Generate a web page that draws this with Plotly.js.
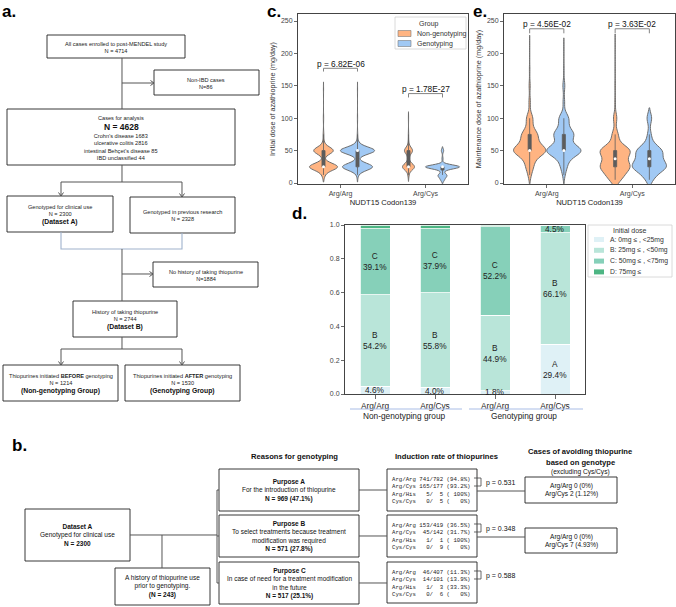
<!DOCTYPE html>
<html>
<head>
<meta charset="utf-8">
<script src="https://cdn.plot.ly/plotly-3.0.1.min.js"></script>
<style>
html,body{margin:0;padding:0;background:#ffffff;}
#chart{width:676px;height:607px;}
</style>
</head>
<body>
<div id="chart"></div>
<script>
// ======================= DATA =======================
// Panels c / e : NUDT15 codon 139 genotype and treatment group
const genotypeLabels = ['Arg/Arg', 'Arg/Cys'];
const groupNames = ['Non-genotyping', 'Genotyping'];
const groupLegendTitle = 'Group';

// Panel c - initial azathioprine dose (mg/day): dose levels and number of cases
const initNonGenoArgArgDose  = [12.5, 25, 37.5, 50, 62.5, 75, 100, 145];
const initNonGenoArgArgCount = [46, 530, 12, 370, 21, 12, 6, 3];
const initGenoArgArgDose     = [12.5, 25, 37.5, 50, 62.5, 75, 100, 145];
const initGenoArgArgCount    = [18, 440, 9, 500, 22, 6, 3, 2];
const initNonGenoArgCysDose  = [12.5, 25, 37.5, 50, 62.5, 75, 100];
const initNonGenoArgCysCount = [40, 520, 38, 350, 29, 15, 8];
const initGenoArgCysDose     = [5, 10, 12.5, 20, 25, 37.5, 50];
const initGenoArgCysCount    = [60, 70, 110, 54, 640, 21, 45];
const initialPValues = ['p = 6.82E-06', 'p = 1.78E-27'];

// Panel e - maintenance azathioprine dose (mg/day)
const maintNonGenoArgArgDose  = [12.5, 25, 37.5, 50, 62.5, 75, 87.5, 100, 125, 150, 175, 212];
const maintNonGenoArgArgCount = [30, 80, 100, 400, 140, 180, 40, 80, 20, 15, 7, 4];
const maintGenoArgArgDose     = [12.5, 25, 37.5, 50, 62.5, 75, 87.5, 100, 125, 150, 175, 208];
const maintGenoArgArgCount    = [20, 60, 90, 400, 80, 220, 60, 110, 20, 25, 6, 3];
const maintNonGenoArgCysDose  = [5, 12.5, 25, 37.5, 50, 62.5, 75, 100, 125, 150, 175, 214];
const maintNonGenoArgCysCount = [60, 120, 280, 150, 300, 50, 60, 40, 8, 6, 3, 2];
const maintGenoArgCysDose     = [5, 12.5, 25, 37.5, 50, 62.5, 75, 100];
const maintGenoArgCysCount    = [30, 80, 300, 160, 220, 40, 30, 50];
const maintenancePValues = ['p = 4.56E-02', 'p = 3.63E-02'];

// Panel d - initial dose category (%)
const barGenotypes = ['Arg/Arg', 'Arg/Cys', 'Arg/Arg', 'Arg/Cys'];
const barGroupLabels = ['Non-genotyping group', 'Genotyping group'];
const doseLegendTitle = 'Initial dose';
const doseBinNames = ['A: 0mg \u2264 , <25mg', 'B: 25mg \u2264 , <50mg', 'C: 50mg \u2264 , <75mg', 'D: 75mg \u2264'];
const doseBinLetters = ['A', 'B', 'C', 'D'];
const pctBinA = [4.6, 4.0, 1.8, 29.4];
const pctBinB = [54.2, 55.8, 44.9, 66.1];
const pctBinC = [39.1, 37.9, 52.2, 4.5];
const pctBinD = [2.1, 2.3, 1.1, 0.0];

// Panel a - flow chart texts (last entry of a box may be a bold caption)
const flowATexts = [
  ['All cases enrolled to post-MENDEL study', 'N = 4714'],
  ['Non-IBD cases', 'N=86'],
  null,
  ['Genotyped for clinical use', 'N = 2300'],
  ['Genotyped in previous research', 'N = 2328'],
  ['No history of taking thiopurine', 'N=1884'],
  ['History of taking thiopurine', 'N = 2744'],
  ['Thiopurines initiated <b>BEFORE</b> genotyping', 'N = 1214'],
  ['Thiopurines initiated <b>AFTER</b> genotyping', 'N = 1530']
];
const flowACaptions = [null, null, null, '(Dataset A)', null, null, '(Dataset B)', '(Non-genotyping Group)', '(Genotyping Group)'];
const analysisTitle = 'Cases for analysis';
const analysisN = 'N = 4628';
const analysisDetail = ['Crohn\u2019s disease 1683', 'ulcerative colitis 2816', 'intestinal Behçet\u2019s disease 85', 'IBD unclassified 44'];

// Panel b - flow chart texts
const flowBHeaders = ['Reasons for genotyping', 'Induction rate of thiopurines'];
const avoidHeader = ['Cases of avoiding thiopurine', 'based on genotype', '(excluding Cys/Cys)'];
const datasetABox = '<b>Dataset A</b><br>Genotyped for clinical use<br><b>N = 2300</b>';
const historyBox = 'A history of thiopurine use<br>prior to genotyping.<br><b>(N = 243)</b>';
const purposeTexts = [
  '<b>Purpose A</b><br>For the introduction of thiopurine<br><b>N = 969 (47.1%)</b>',
  '<b>Purpose B</b><br>To select treatments because treatment<br>modification was required<br><b>N = 571 (27.8%)</b>',
  '<b>Purpose C</b><br>In case of need for a treatment modification<br>in the future<br><b>N = 517 (25.1%)</b>'
];
const inductionGenotypes = ['Arg/Arg', 'Arg/Cys', 'Arg/His', 'Cys/Cys'];
const inductionNum = [[741, 165, 5, 0], [153, 45, 1, 0], [46, 14, 1, 0]];
const inductionDen = [[782, 177, 5, 5], [419, 142, 1, 9], [407, 101, 3, 6]];
const inductionPct = [['94.8%', '93.2%', '100%', '0%'], ['36.5%', '31.7%', '100%', '0%'], ['11.3%', '13.9%', '33.3%', '0%']];
const inductionPValues = ['p = 0.531', 'p = 0.348', 'p = 0.588'];
const avoidTexts = ['Arg/Arg 0 (0%)<br>Arg/Cys 2 (1.12%)', 'Arg/Arg 0 (0%)<br>Arg/Cys 7 (4.93%)'];

// ======================= HELPERS =======================
const W = 676, H = 607;
const PX = x => x / W;
const PY = y => 1 - y / H;
const FONT = 'Liberation Sans, Arial, sans-serif';
const orange = '#ffb482', blue = '#a1c9f4';
const groupColors = [orange, blue];
const binColors = ['#dff1f6', '#b9e5d9', '#86d0b9', '#4db583'];

function expand(levels, counts) {
  const out = [];
  levels.forEach((v, i) => { for (let k = 0; k < counts[i]; k++) out.push(v); });
  return out;
}
function median(arr) {
  const s = arr.slice().sort((a, b) => a - b);
  const m = Math.floor(s.length / 2);
  return s.length % 2 ? s[m] : (s[m - 1] + s[m]) / 2;
}

const traces = [];
function addViolin(levels, counts, pos, w, bw, color, name, xa, ya, med) {
  const ys = expand(levels, counts);
  traces.push({
    type: 'violin', x0: pos, y: ys, xaxis: xa, yaxis: ya, orientation: 'v',
    width: w, bandwidth: bw, points: false, spanmode: 'soft', scalemode: 'width',
    fillcolor: color, line: {color: '#6e6e6e', width: 1},
    box: {visible: true, width: 0.036 / w, fillcolor: '#5c5c5c', line: {color: '#5c5c5c', width: 0.8}},
    meanline: {visible: false}, name: name, showlegend: false, hoverinfo: 'skip'
  });
  med.x.push(pos); med.y.push(median(ys));
}

// ---- panel c ----
const medC = {x: [], y: []};
addViolin(initNonGenoArgArgDose, initNonGenoArgArgCount, -0.2, 0.33, 5.5, orange, groupNames[0], 'x', 'y', medC);
addViolin(initGenoArgArgDose, initGenoArgArgCount, 0.2, 0.40, 5.5, blue, groupNames[1], 'x', 'y', medC);
addViolin(initNonGenoArgCysDose, initNonGenoArgCysCount, 0.8, 0.14, 5.0, orange, groupNames[0], 'x', 'y', medC);
addViolin(initGenoArgCysDose, initGenoArgCysCount, 1.2, 0.40, 3.0, blue, groupNames[1], 'x', 'y', medC);
traces.push({type: 'scatter', mode: 'markers', x: medC.x, y: medC.y, xaxis: 'x', yaxis: 'y',
  marker: {color: '#ffffff', size: 3}, showlegend: false, hoverinfo: 'skip'});

// ---- panel e ----
const medE = {x: [], y: []};
addViolin(maintNonGenoArgArgDose, maintNonGenoArgArgCount, -0.2, 0.376, 8, orange, groupNames[0], 'x2', 'y2', medE);
addViolin(maintGenoArgArgDose, maintGenoArgArgCount, 0.2, 0.40, 8, blue, groupNames[1], 'x2', 'y2', medE);
addViolin(maintNonGenoArgCysDose, maintNonGenoArgCysCount, 0.8, 0.353, 8, orange, groupNames[0], 'x2', 'y2', medE);
addViolin(maintGenoArgCysDose, maintGenoArgCysCount, 1.2, 0.40, 8, blue, groupNames[1], 'x2', 'y2', medE);
traces.push({type: 'scatter', mode: 'markers', x: medE.x, y: medE.y, xaxis: 'x2', yaxis: 'y2',
  marker: {color: '#ffffff', size: 3}, showlegend: false, hoverinfo: 'skip'});

// ---- panel d ----
const binPcts = [pctBinA, pctBinB, pctBinC, pctBinD];
const barX = barGenotypes.map((g, i) => i);
binPcts.forEach((p, k) => {
  traces.push({
    type: 'bar', x: barX, y: p.map(v => v / 100), width: 0.5, xaxis: 'x3', yaxis: 'y3',
    name: doseBinNames[k], showlegend: false,
    marker: {color: binColors[k], line: {color: '#ffffff', width: 0.8}},
    textposition: 'none', hoverinfo: 'skip'
  });
});

// ======================= LAYOUT ITEMS =======================
const shapes = [];
const annotations = [];

function ann(text, x, y, o) {
  o = o || {};
  annotations.push(Object.assign({
    text: text, xref: 'paper', yref: 'paper', x: PX(x), y: PY(y), showarrow: false,
    xanchor: 'center', yanchor: 'middle', align: 'center',
    font: {family: FONT, size: 6, color: '#111'}
  }, o));
}
function rect(b, color, lw, fill) {
  shapes.push({type: 'rect', xref: 'paper', yref: 'paper', x0: PX(b[0]), x1: PX(b[2]), y0: PY(b[3]), y1: PY(b[1]),
    line: {color: color || '#222', width: lw === undefined ? 0.9 : lw}, fillcolor: fill || 'rgba(0,0,0,0)', layer: 'above'});
}
function poly(pts, color, lw) {
  const path = pts.map((p, i) => (i ? 'L' : 'M') + PX(p[0]).toFixed(5) + ',' + PY(p[1]).toFixed(5)).join(' ');
  shapes.push({type: 'path', xref: 'paper', yref: 'paper', path: path,
    line: {color: color || '#555', width: lw || 1}, layer: 'above'});
}
function arrowDown(x, y0, y1, c) { poly([[x, y0], [x, y1]], c); poly([[x - 2.5, y1 - 3.5], [x, y1], [x + 2.5, y1 - 3.5]], c); }
function arrowRight(x0, x1, y, c) { poly([[x0, y], [x1, y]], c); poly([[x1 - 3.5, y - 2.5], [x1, y], [x1 - 3.5, y + 2.5]], c); }

// panel labels
const labelFont = {family: FONT, size: 17, color: '#000'};
ann('<b>a.</b>', 0, 0, {xanchor: 'left', yanchor: 'top', font: labelFont});
ann('<b>b.</b>', 10, 445, {xanchor: 'left', font: labelFont});
ann('<b>c.</b>', 265, 0, {xanchor: 'left', yanchor: 'top', font: labelFont});
ann('<b>d.</b>', 290, 214, {xanchor: 'left', font: labelFont});
ann('<b>e.</b>', 471, 0, {xanchor: 'left', yanchor: 'top', font: labelFont});

// ---- panel a flow chart ----
const aFont = {family: FONT, size: 5.6, color: '#222'};
const aCapFont = {family: FONT, size: 6.8, color: '#111'};
const flowABoxes = [[47, 35, 185, 58], [154, 70, 259, 95], [7, 109, 235, 165], [7, 196, 113, 232],
  [130, 197, 235, 233], [153, 262, 258, 287], [73, 301, 177, 337], [3, 365, 118, 401], [125, 365, 240, 401]];
flowABoxes.forEach((b, i) => {
  rect(b, '#222', 0.9);
  const cx = (b[0] + b[2]) / 2, cy = (b[1] + b[3]) / 2;
  if (!flowATexts[i]) return;
  if (flowACaptions[i]) {
    ann(flowATexts[i].join('<br>'), cx, cy - 4, {font: aFont});
    ann('<b>' + flowACaptions[i] + '</b>', cx, cy + 8, {font: aCapFont});
  } else {
    ann(flowATexts[i].join('<br>'), cx, cy + 0.5, {font: aFont});
  }
});
ann(analysisTitle, 121, 117.5, {font: aFont});
ann('<b>' + analysisN + '</b>', 121, 127, {font: {family: FONT, size: 8.5, color: '#111'}});
ann(analysisDetail.join('<br>'), 121, 147.5, {font: aFont});
const lineA = '#555', lineBlue = '#9fb2cc';
poly([[122, 58], [122, 109]], lineA);
arrowRight(122, 154, 83, lineA);
poly([[122, 165], [122, 182]], lineA);
poly([[61, 182], [182, 182]], lineA);
arrowDown(61, 182, 196, lineA);
arrowDown(182, 182, 197, lineA);
poly([[61, 232], [61, 249], [182, 249], [182, 233]], lineBlue, 1.1);
poly([[122, 249], [122, 301]], lineA);
arrowRight(122, 153, 274, lineA);
poly([[122, 337], [122, 349]], lineA);
poly([[61, 349], [182, 349]], lineA);
arrowDown(61, 349, 365, lineA);
arrowDown(182, 349, 365, lineA);

// ---- panel b flow chart ----
const bFont = {family: FONT, size: 6.5, color: '#111'};
const hFont = {family: FONT, size: 7.6, color: '#111'};
ann('<b>' + flowBHeaders[0] + '</b>', 294, 456, {font: hFont});
ann('<b>' + flowBHeaders[1] + '</b>', 446, 456, {font: hFont});
ann('<b>' + avoidHeader[0] + '</b>', 580, 451, {font: hFont});
ann('<b>' + avoidHeader[1] + '</b>', 580, 462, {font: hFont});
ann(avoidHeader[2], 580, 472, {font: {family: FONT, size: 6.6, color: '#111'}});

rect([25, 509, 130, 561]);
ann(datasetABox, 77.5, 535, {font: bFont});
rect([115, 568, 210, 605]);
ann(historyBox, 162.5, 586.5, {font: bFont});
const purposeBoxes = [[219, 469, 359, 511], [219, 515, 359, 557], [219, 562, 359, 604]];
const inductionBoxes = [[387, 469, 477, 511], [387, 515, 477, 557], [387, 562, 477, 603]];
const avoidBoxes = [[525, 477, 617, 503], [525, 528, 617, 553]];
const pad = (s, n) => { s = String(s); while (s.length < n) s = '\u00a0' + s; return s; };
purposeBoxes.forEach((b, i) => {
  rect(b);
  ann(purposeTexts[i], (b[0] + b[2]) / 2, (b[1] + b[3]) / 2 + 0.5, {font: bFont});
});
inductionBoxes.forEach((b, i) => {
  rect(b);
  const lines = inductionGenotypes.map((g, j) =>
    g + '\u00a0' + pad(inductionNum[i][j], 3) + '/' + pad(inductionDen[i][j], 3) + '\u00a0(' + pad(inductionPct[i][j], 5) + ')');
  ann(lines.join('<br>'), b[0] + 3, (b[1] + b[3]) / 2 + 0.5,
    {xanchor: 'left', align: 'left', font: {family: 'Liberation Mono, DejaVu Sans Mono, monospace', size: 5.7, color: '#222'}});
  const y1 = b[1] + 9, y2 = b[1] + 17;
  poly([[474, y1], [481, y1], [481, y2], [474, y2]], '#444', 0.8);
  ann(inductionPValues[i], 484, b[1] + 14, {xanchor: 'left', font: {family: FONT, size: 7, color: '#111'}});
});
avoidBoxes.forEach((b, i) => {
  rect(b);
  ann(avoidTexts[i], (b[0] + b[2]) / 2, (b[1] + b[3]) / 2 + 0.5, {font: bFont});
});
const lineB = '#555';
poly([[130, 535], [217, 535]], lineB);
poly([[162, 535], [162, 568]], lineB);
poly([[219, 490], [217, 490], [217, 583], [219, 583]], lineB);
poly([[217, 536], [219, 536]], lineB);
poly([[359, 490], [387, 490]], lineB);
poly([[359, 536], [387, 536]], lineB);
poly([[359, 583], [387, 583]], lineB);
poly([[477, 491], [525, 491]], lineB);
poly([[477, 537], [525, 537]], lineB);

// ---- p-value brackets for c and e ----
function bracket(xa, ya, x0, x1, yLeg, yTop, text, yText) {
  shapes.push({type: 'path', xref: xa, yref: ya,
    path: `M${x0},${yLeg} L${x0},${yTop} L${x1},${yTop} L${x1},${yLeg}`,
    line: {color: '#777', width: 0.9}});
  annotations.push({text: text, xref: xa, yref: ya, x: (x0 + x1) / 2, y: yText, showarrow: false,
    xanchor: 'center', yanchor: 'middle', font: {family: FONT, size: 8.3, color: '#111'}});
}
bracket('x', 'y', -0.2, 0.2, 172, 177, initialPValues[0], 184);
bracket('x', 'y', 0.8, 1.2, 132, 138, initialPValues[1], 145);
bracket('x2', 'y2', -0.2, 0.2, 231, 238, maintenancePValues[0], 246);
bracket('x2', 'y2', 0.8, 1.2, 231, 238, maintenancePValues[1], 246);

// ---- legend for panel c (group) ----
rect([395, 17, 466, 49], '#d0d0d0', 0.8, '#ffffff');
ann(groupLegendTitle, 429, 23.5, {font: {family: FONT, size: 7, color: '#333'}});
groupNames.forEach((g, i) => {
  const yc = 33.5 + i * 10;
  rect([398, yc - 3, 411, yc + 3], '#7a7a7a', 0.6, groupColors[i]);
  ann(g, 415, yc, {xanchor: 'left', font: {family: FONT, size: 7, color: '#333'}});
});

// ---- legend for panel d (initial dose) ----
rect([588, 225, 672, 277], '#d0d0d0', 0.8, '#ffffff');
ann(doseLegendTitle, 630, 231, {font: {family: FONT, size: 7, color: '#333'}});
doseBinNames.forEach((n, k) => {
  const yc = 239.5 + k * 10.8;
  rect([594, yc - 2.5, 604, yc + 2.5], 'rgba(0,0,0,0)', 0, binColors[k]);
  ann(n, 608, yc, {xanchor: 'left', font: {family: FONT, size: 6.8, color: '#333'}});
});

// ---- panel d segment labels ----
barGenotypes.forEach((g, i) => {
  let base = 0;
  for (let k = 0; k < 4; k++) {
    const v = binPcts[k][i];
    if (k < 3 && v > 0) {
      const txt = v >= 10 ? doseBinLetters[k] + '<br>' + v.toFixed(1) + '%' : v.toFixed(1) + '%';
      annotations.push({text: txt, xref: 'x3', yref: 'y3', x: i, y: (base + v / 2) / 100, showarrow: false,
        xanchor: 'center', yanchor: 'middle', font: {family: FONT, size: 8.3, color: '#222'}});
    }
    base += v;
  }
});
// group labels under panel d
ann(barGroupLabels[0], 404, 416, {font: {family: FONT, size: 8.3, color: '#222'}});
ann(barGroupLabels[1], 524, 416, {font: {family: FONT, size: 8.3, color: '#222'}});
poly([[350, 409], [462, 409]], '#a9bde6', 1);
poly([[469, 409], [583, 409]], '#a9bde6', 1);

// ======================= AXES =======================
const axCommon = {showline: true, mirror: true, linecolor: '#444', linewidth: 1, ticks: 'outside', ticklen: 3,
  tickcolor: '#444', tickwidth: 0.8, showgrid: false, zeroline: false, fixedrange: true};
const tickF = {family: FONT, size: 7, color: '#444'};
const layout = {
  width: W, height: H, margin: {l: 0, r: 0, t: 0, b: 0},
  paper_bgcolor: '#ffffff', plot_bgcolor: '#ffffff',
  font: {family: FONT, color: '#222'}, showlegend: false,
  violinmode: 'overlay', barmode: 'stack',
  xaxis: Object.assign({}, axCommon, {domain: [PX(298), PX(468)], range: [-0.5, 1.5], tickvals: [0, 1], ticktext: genotypeLabels,
    tickfont: tickF, anchor: 'y', title: {text: 'NUDT15 Codon139', font: {family: FONT, size: 7.6, color: '#222'}, standoff: 1}}),
  yaxis: Object.assign({}, axCommon, {domain: [PY(184), PY(14)], range: [-1.5, 260.8], tickvals: [0, 50, 100, 150, 200, 250],
    tickfont: tickF, anchor: 'x', title: {text: 'Initial dose of azathioprine (mg/day)', font: {family: FONT, size: 7.2, color: '#333'}, standoff: 4}}),
  xaxis2: Object.assign({}, axCommon, {domain: [PX(504), PX(675)], range: [-0.5, 1.5], tickvals: [0, 1], ticktext: genotypeLabels,
    tickfont: tickF, anchor: 'y2', title: {text: 'NUDT15 Codon139', font: {family: FONT, size: 7.6, color: '#222'}, standoff: 1}}),
  yaxis2: Object.assign({}, axCommon, {domain: [PY(184), PY(14)], range: [-1.5, 260.8], tickvals: [0, 50, 100, 150, 200, 250],
    tickfont: tickF, anchor: 'x2', title: {text: 'Maintenance dose of azathioprine (mg/day)', font: {family: FONT, size: 7.2, color: '#333'}, standoff: 4}}),
  xaxis3: Object.assign({}, axCommon, {domain: [PX(345), PX(585)], range: [-0.5, 3.5], tickvals: [0, 1, 2, 3], ticktext: barGenotypes,
    ticklen: 4, tickfont: {family: FONT, size: 8.3, color: '#222'}, anchor: 'y3'}),
  yaxis3: Object.assign({}, axCommon, {domain: [PY(394), PY(225)], range: [0, 1], tickvals: [0, 0.2, 0.4, 0.6, 0.8, 1.0],
    tickformat: '.1f', tickfont: tickF, anchor: 'x3'}),
  shapes: shapes, annotations: annotations
};

Plotly.newPlot('chart', traces, layout, {staticPlot: true, displayModeBar: false});
</script>
</body>
</html>
